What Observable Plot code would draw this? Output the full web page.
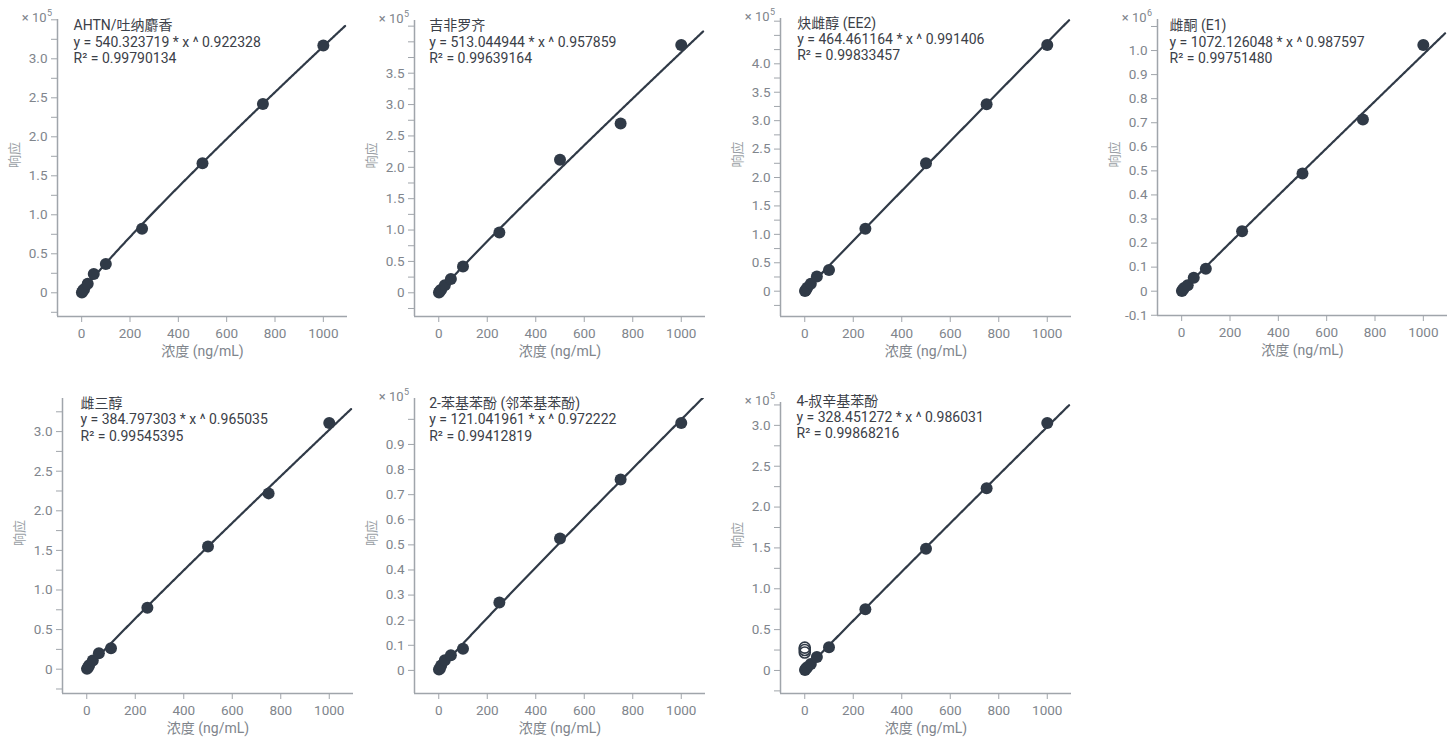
<!DOCTYPE html>
<html>
<head>
<meta charset="utf-8">
<script src="https://cdn.jsdelivr.net/npm/d3@7"></script>
<script src="https://cdn.jsdelivr.net/npm/@observablehq/plot@0.6"></script>
<style>
  body { margin: 0; background: #fff; }
  #root { position: relative; width: 1453px; height: 740px; overflow: hidden; }
  #root svg { position: absolute; }
</style>
</head>
<body>
<div id="root"></div>
<script>
// ---------- data ----------
const compounds = ["AHTN/吐纳麝香", "吉非罗齐", "炔雌醇 (EE2)", "雌酮 (E1)", "雌三醇", "2-苯基苯酚 (邻苯基苯酚)", "4-叔辛基苯酚"];
const concentrations = [1, 5, 10, 25, 50, 100, 250, 500, 750, 1000]; // ng/mL

// responses in units of 10^exponent
const ahtn         = [0.005, 0.025, 0.045, 0.115, 0.24, 0.37, 0.82, 1.66, 2.42, 3.17];
const gemfibrozil  = [0.005, 0.03, 0.05, 0.12, 0.22, 0.42, 0.96, 2.12, 2.70, 3.95];
const ee2          = [0.005, 0.02, 0.06, 0.13, 0.26, 0.375, 1.10, 2.25, 3.29, 4.33];
const e1           = [0.001, 0.006, 0.013, 0.025, 0.056, 0.093, 0.249, 0.489, 0.713, 1.023];
const estriol      = [0.004, 0.02, 0.05, 0.11, 0.20, 0.265, 0.775, 1.55, 2.22, 3.11];
const phenylphenol = [0.004, 0.008, 0.02, 0.04, 0.06, 0.086, 0.27, 0.525, 0.76, 0.985];
const octylphenol  = [0.005, 0.02, 0.04, 0.08, 0.165, 0.285, 0.75, 1.49, 2.23, 3.03];
const series = [ahtn, gemfibrozil, ee2, e1, estriol, phenylphenol, octylphenol];

// excluded (open) points, 4-叔辛基苯酚 only
const excludedConc = [0, 0, 0];
const excludedResp = [0.28, 0.25, 0.22];

// power fit y = a * x ^ b
const fitA = ["540.323719", "513.044944", "464.461164", "1072.126048", "384.797303", "121.041961", "328.451272"];
const fitB = ["0.922328", "0.957859", "0.991406", "0.987597", "0.965035", "0.972222", "0.986031"];
const fitR2 = ["0.99790134", "0.99639164", "0.99833457", "0.99751480", "0.99545395", "0.99412819", "0.99868216"];
const exponents = [5, 5, 5, 6, 5, 5, 5];
const showExponent = [true, true, true, true, false, true, true];

// axes
const xDomain = [-100, 1100];
const xTicks = [0, 200, 400, 600, 800, 1000];
const yDomains = [[-0.304, 3.504], [-0.378, 4.34], [-0.445, 4.797], [-0.101, 1.129], [-0.307, 3.418], [-0.092, 1.083], [-0.282, 3.28]];
const yTicks = [
  [-0.25, 0, 0.25, 0.5, 0.75, 1, 1.25, 1.5, 1.75, 2, 2.25, 2.5, 2.75, 3, 3.25, 3.5],
  [-0.25, 0, 0.25, 0.5, 0.75, 1, 1.25, 1.5, 1.75, 2, 2.25, 2.5, 2.75, 3, 3.25, 3.5, 3.75, 4, 4.25],
  [-0.25, 0, 0.25, 0.5, 0.75, 1, 1.25, 1.5, 1.75, 2, 2.25, 2.5, 2.75, 3, 3.25, 3.5, 3.75, 4, 4.25, 4.5, 4.75],
  [-0.1, 0, 0.1, 0.2, 0.3, 0.4, 0.5, 0.6, 0.7, 0.8, 0.9, 1.0, 1.1],
  [-0.25, 0, 0.25, 0.5, 0.75, 1, 1.25, 1.5, 1.75, 2, 2.25, 2.5, 2.75, 3, 3.25],
  [0, 0.1, 0.2, 0.3, 0.4, 0.5, 0.6, 0.7, 0.8, 0.9, 1.0],
  [-0.25, 0, 0.25, 0.5, 0.75, 1, 1.25, 1.5, 1.75, 2, 2.25, 2.5, 2.75, 3, 3.25]
];
const yTickLabels = [
  [0, 0.5, 1, 1.5, 2, 2.5, 3],
  [0, 0.5, 1, 1.5, 2, 2.5, 3, 3.5],
  [0, 0.5, 1, 1.5, 2, 2.5, 3, 3.5, 4],
  [-0.1, 0, 0.1, 0.2, 0.3, 0.4, 0.5, 0.6, 0.7, 0.8, 0.9, 1.0],
  [0, 0.5, 1, 1.5, 2, 2.5, 3],
  [0, 0.1, 0.2, 0.3, 0.4, 0.5, 0.6, 0.7, 0.8, 0.9],
  [0, 0.5, 1, 1.5, 2, 2.5, 3]
];
const xLabel = "浓度 (ng/mL)";
const yLabel = "响应";

// ---------- layout (pixels) ----------
const layout = [
  {left: 0,    top: 0,   axisX: 57,   rightX: 347,  plotTop: 19,  plotBottom: 316, tdx: 16,   tdy: 6,    gap: 16.6},
  {left: 363,  top: 0,   axisX: 414,  rightX: 705,  plotTop: 20,  plotBottom: 316, tdx: 14.7, tdy: 5,    gap: 16.6},
  {left: 726,  top: 0,   axisX: 780,  rightX: 1071, plotTop: 18,  plotBottom: 316, tdx: 16.7, tdy: 5.3,  gap: 15.8},
  {left: 1090, top: 0,   axisX: 1157, rightX: 1447, plotTop: 19,  plotBottom: 315, tdx: 12,   tdy: 6,    gap: 16.6},
  {left: 0,    top: 370, axisX: 62,   rightX: 353,  plotTop: 398, plotBottom: 693, tdx: 18,   tdy: 5.3,  gap: 16.2},
  {left: 363,  top: 370, axisX: 414,  rightX: 705,  plotTop: 398, plotBottom: 693, tdx: 14.7, tdy: 5.3,  gap: 16.2},
  {left: 726,  top: 370, axisX: 780,  rightX: 1071, plotTop: 402, plotBottom: 693, tdx: 16,   tdy: -1.3, gap: 16}
];

const dark = "#303a47";
const titleColor = "#3b4048";
const axisColor = "#a0a5ab";
const tickText = "#80858c";
const font = "Roboto, 'Noto Sans CJK SC', sans-serif";

const root = document.getElementById("root");
const fmt = d => Math.abs(d) < 1e-9 ? "0" : d.toFixed(1);

compounds.forEach((name, i) => {
  const L = layout[i];
  const W = 363, H = 370;
  const a = +fitA[i], b = +fitB[i], scale = Math.pow(10, exponents[i]);
  const pts = concentrations.map((c, j) => ({x: c, y: series[i][j]}));
  const curve = d3.range(0, 1090.01, 2).map(x => ({x, y: a * Math.pow(x, b) / scale}));

  const marks = [
    Plot.ruleX([xDomain[0]], {stroke: axisColor, strokeWidth: 1.5}),
    Plot.ruleY([yDomains[i][0]], {stroke: axisColor, strokeWidth: 1.5}),
    Plot.axisX({ticks: xTicks, tickSize: 6, stroke: axisColor, label: null, tickFormat: () => ""}),
    Plot.axisY({ticks: yTicks[i], tickSize: 6, stroke: axisColor, label: null, tickFormat: () => ""}),
    Plot.text(xTicks, {x: d => d, frameAnchor: "bottom", dy: 17.5, lineAnchor: "middle", textAnchor: "middle", fill: tickText, fontSize: 13.5, text: d => String(d)}),
    Plot.text(yTickLabels[i], {y: d => d, frameAnchor: "left", dx: -10, lineAnchor: "middle", textAnchor: "end", fill: tickText, fontSize: 13.5, text: fmt}),
    Plot.text([xLabel], {frameAnchor: "bottom", dy: 35.5, lineAnchor: "middle", fill: tickText, fontSize: 14}),
    Plot.text([yLabel], {frameAnchor: "left", dx: -43, rotate: -90, lineAnchor: "middle", fill: "#9a9fa5", fontSize: 13}),
    Plot.line(curve, {x: "x", y: "y", stroke: dark, strokeWidth: 2.2, clip: true}),
    Plot.dot(pts, {x: "x", y: "y", r: 6, fill: dark, stroke: "none"})
  ];
  if (i === 6) {
    const ex = excludedConc.map((c, j) => ({x: c, y: excludedResp[j]}));
    marks.push(Plot.dot(ex, {x: "x", y: "y", r: 5.5, fill: "none", stroke: dark, strokeWidth: 1.6}));
  }
  const lines = [name, `y = ${fitA[i]} * x ^ ${fitB[i]}`, `R² = ${fitR2[i]}`];
  lines.forEach((t, k) => {
    marks.push(Plot.text([t], {frameAnchor: "top-left", dx: L.tdx, dy: L.tdy + k * L.gap, textAnchor: "start", lineAnchor: "middle", fill: titleColor, fontSize: 14}));
  });
  if (showExponent[i]) {
    marks.push(Plot.text(["× 10"], {frameAnchor: "top-left", dx: -11, dy: -2, textAnchor: "end", lineAnchor: "middle", fill: tickText, fontSize: 13}));
    marks.push(Plot.text([String(exponents[i])], {frameAnchor: "top-left", dx: -10.5, dy: -6.5, textAnchor: "start", lineAnchor: "middle", fill: tickText, fontSize: 9}));
  }

  const chart = Plot.plot({
    width: W, height: H,
    marginLeft: L.axisX - L.left,
    marginRight: L.left + W - L.rightX,
    marginTop: L.plotTop - L.top,
    marginBottom: L.top + H - L.plotBottom,
    x: {domain: xDomain, axis: null},
    y: {domain: yDomains[i], axis: null},
    style: {fontFamily: font, background: "transparent", overflow: "visible"},
    marks
  });
  chart.style.left = L.left + "px";
  chart.style.top = L.top + "px";
  root.append(chart);
});
</script>
</body>
</html>
